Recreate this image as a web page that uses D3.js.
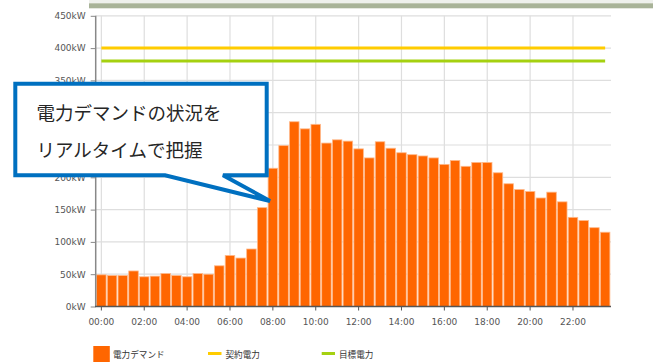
<!DOCTYPE html>
<html><head><meta charset="utf-8">
<script src="https://cdn.jsdelivr.net/npm/d3@7"></script>
<style>body{margin:0;background:#fff;}svg{display:block;}</style>
</head><body>
<svg id="c" width="653" height="362"></svg>
<script>
const times = [];
for (let h = 0; h < 24; h++) { const hh = String(h).padStart(2,"0"); times.push(hh+":00", hh+":30"); }
const demand = [49,48,48,55,46,47,51,48,46,51,50,63,79,75,89,153,214,249,286,275,282,253,258,256,244,230,255,245,238,235,233,230,220,226,217,223,223,207,190,181,178,168,177,162,138,133,122,115];
const contract = 400;
const target = 380;
const yTicks = [0,50,100,150,200,250,300,350,400,450];
const xTickLabels = ["00:00","02:00","04:00","06:00","08:00","10:00","12:00","14:00","16:00","18:00","20:00","22:00"];
const legendLabels = ["電力デマンド","契約電力","目標電力"];
const calloutLines = ["電力デマンドの状況を","リアルタイムで把握"];

const svg = d3.select("#c");
const x = d3.scaleBand().domain(times).range([96, 610.5]).padding(0);
const y = d3.scaleLinear().domain([0,450]).range([306.5, 15.8]);
const bw = x.bandwidth();

// top header strip
svg.append("rect").attr("x",89).attr("y",0).attr("width",564).attr("height",3.3).attr("fill","#eef0ec");
svg.append("rect").attr("x",89).attr("y",3.3).attr("width",564).attr("height",5).attr("fill","#a8b398");

// gridlines
svg.append("g").selectAll("line").data(yTicks).join("line")
  .attr("x1",96).attr("x2",611).attr("y1",d=>y(d)).attr("y2",d=>y(d))
  .attr("stroke","#dedede").attr("stroke-width",1.2);
svg.append("g").selectAll("line").data(xTickLabels).join("line")
  .attr("x1",d=>x(d)+bw/2).attr("x2",d=>x(d)+bw/2).attr("y1",y(450)).attr("y2",y(0))
  .attr("stroke","#dedede").attr("stroke-width",1.2);

// bars
svg.append("g").selectAll("rect").data(demand).join("rect")
  .attr("x",(d,i)=>x(times[i])+0.6).attr("width",bw-1.2)
  .attr("y",d=>y(d)).attr("height",d=>y(0)-y(d))
  .attr("fill","#ff6600").attr("stroke","#ffb98a").attr("stroke-width",0.8);

// reference lines
const x0 = x(times[0])+bw/2, x1 = x(times[times.length-1])+bw/2;
svg.append("line").attr("x1",x0).attr("x2",x1).attr("y1",y(contract)).attr("y2",y(contract))
  .attr("stroke","#ffcc00").attr("stroke-width",3);
svg.append("line").attr("x1",x0).attr("x2",x1).attr("y1",y(target)).attr("y2",y(target))
  .attr("stroke","#a5d110").attr("stroke-width",3);

// y axis
const yAxis = svg.append("g").attr("transform","translate(95.7,0)")
  .call(d3.axisLeft(y).tickValues(yTicks).tickFormat(d=>d+"kW").tickSize(5).tickPadding(5));
yAxis.select(".domain").attr("stroke","#888").attr("stroke-width",1.5).attr("d",`M0,${y(450)}V${y(0)}`);
yAxis.selectAll(".tick line").attr("stroke","#888");
yAxis.selectAll("text").attr("font-family","DejaVu Sans").attr("font-size",9).attr("fill","#555");

// x axis
const xAxis = svg.append("g").attr("transform",`translate(0,${y(0)})`)
  .call(d3.axisBottom(x).tickValues(xTickLabels).tickSize(4).tickPadding(8));
xAxis.select(".domain").attr("stroke","#555").attr("stroke-width",1.5).attr("d","M95,0H611");
xAxis.selectAll(".tick line").attr("stroke","#555");
xAxis.selectAll("text").attr("font-family","DejaVu Sans").attr("font-size",9).attr("fill","#555");

// callout
const bx0=15.3, bx1=266.7, by0=83.7, by1=175.3;
svg.append("path")
  .attr("d",`M${bx0},${by0}H${bx1}V${by1}H223L270,201L165,${by1}H${bx0}Z`)
  .attr("fill","#fff").attr("stroke","#0070c0").attr("stroke-width",4).attr("stroke-linejoin","miter");
svg.append("g").selectAll("text").data(calloutLines).join("text")
  .attr("x",36.5).attr("y",(d,i)=>111.5+i*37.5).attr("dominant-baseline","central")
  .attr("font-family","Noto Sans CJK JP").attr("font-size",18.5).attr("fill","#262626")
  .text(d=>d);

// legend
const lg = svg.append("g");
lg.append("rect").attr("x",93.3).attr("y",346).attr("width",16.5).attr("height",17).attr("fill","#ff6600");
lg.append("line").attr("x1",208).attr("x2",221.5).attr("y1",353.5).attr("y2",353.5).attr("stroke","#ffcc00").attr("stroke-width",3);
lg.append("line").attr("x1",321.7).attr("x2",335).attr("y1",353.5).attr("y2",353.5).attr("stroke","#a5d110").attr("stroke-width",3);
const lx = [113,225.5,339];
lg.selectAll("text").data(legendLabels).join("text")
  .attr("x",(d,i)=>lx[i]).attr("y",353.5).attr("dominant-baseline","central")
  .attr("font-family","Noto Sans CJK JP").attr("font-size",8.6).attr("fill","#333")
  .text(d=>d);
</script>
</body></html>
